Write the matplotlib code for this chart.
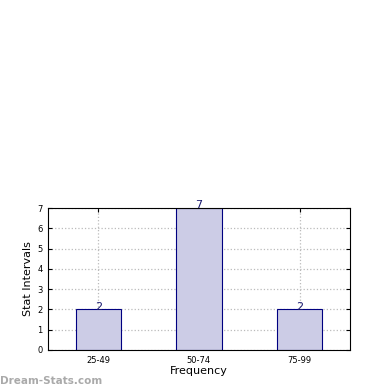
import matplotlib
matplotlib.use("Agg")
import matplotlib.pyplot as plt

# chart data
categories = ["25-49", "50-74", "75-99"]
counts = [2, 7, 2]
y_ticks = [0, 1, 2, 3, 4, 5, 6, 7]

fig = plt.figure(figsize=(3.9, 3.9), dpi=100)
ax = fig.add_axes([0.123, 0.1026, 0.774, 0.364])

x = range(len(categories))
ax.bar(x, counts, width=0.45, color="#ccccE6", edgecolor="#000080", linewidth=0.8, zorder=2)
for xi, c in zip(x, counts):
    ax.annotate(str(c), (xi, c), xytext=(0, -1.5), textcoords="offset points",
                ha="center", va="bottom", fontsize=8, color="#191970", zorder=3)

ax.set_xlim(-0.5, 2.5)
ax.set_ylim(0, 7)
ax.set_xticks(list(x))
ax.set_xticklabels(categories)
ax.set_yticks(y_ticks)
ax.tick_params(direction="in", top=True, right=True, labelsize=6, length=3, pad=4)
ax.grid(True, linestyle=":", color="#bbbbbb", linewidth=0.9, zorder=0)
ax.set_axisbelow(True)

ax.set_xlabel("Frequency", fontsize=8, labelpad=1)
ax.set_ylabel("Stat Intervals", fontsize=8, labelpad=3)

fig.text(0.0, 0.015, "Dream-Stats.com", fontsize=7.5, color="#aaaaaa", fontweight="bold", ha="left")

fig.savefig("out.png", dpi=100)
